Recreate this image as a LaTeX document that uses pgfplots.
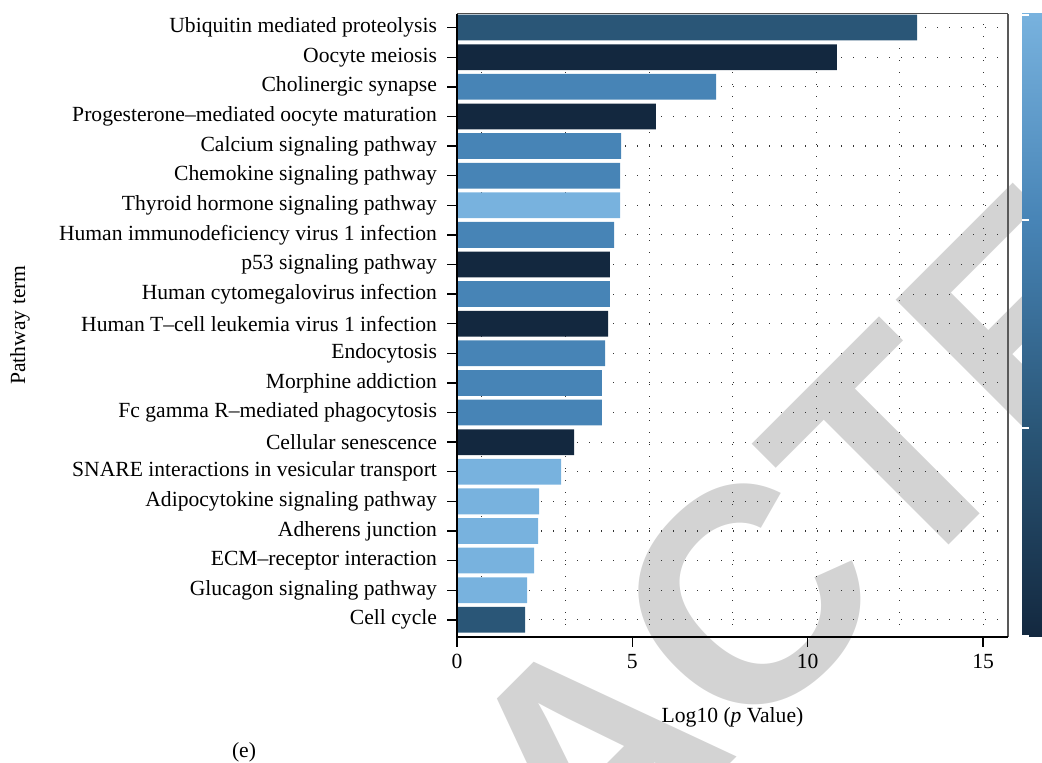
\documentclass[border=0pt]{standalone}
\usepackage{fontspec}
\setmainfont{Liberation Serif}
\newfontfamily\wmfont{Liberation Sans}
\usepackage{pgfplots}
\pgfplotsset{compat=1.18}
\definecolor{cdark}{HTML}{13283F}
\definecolor{cmd}{HTML}{2A5677}
\definecolor{cmed}{HTML}{4784B6}
\definecolor{clight}{HTML}{78B2DE}
\definecolor{wm}{HTML}{D3D3D3}
\pgfdeclareverticalshading{cbar}{100bp}{color(0bp)=(cdark); color(25bp)=(cdark); color(41.667bp)=(cmd); color(58.333bp)=(cmed); color(75bp)=(clight); color(100bp)=(clight)}
\newcommand\lbl{\fontsize{10.8}{13}\selectfont}
\tikzset{gridline/.style={black!80, line width=0.55pt, dash pattern=on 0.55pt off 5.45pt}}
\begin{document}
\begin{tikzpicture}
\useasboundingbox (0,0) rectangle (521pt,381.5pt);
\clip (0,0) rectangle (521pt,381.5pt);
% watermark
\node[rotate=45, text=wm, inner sep=0pt, font=\wmfont\bfseries\fontsize{153}{153}\selectfont] at (295pt,4pt) {RETRACTED};
\begin{axis}[
  at={(228.5pt,63pt)}, anchor=south west, scale only axis,
  width=275.5pt, height=311.5pt,
  xmin=0, xmax=15.71, ymin=-0.58, ymax=20.46,
  xbar, bar width=0.87, bar shift=0pt,
  axis line style={draw=none},
  xtick={0,5,10,15}, ytick={0,1,...,20},
  yticklabels={Cell cycle, Glucagon signaling pathway, ECM--receptor interaction, Adherens junction, Adipocytokine signaling pathway, SNARE interactions in vesicular transport, Cellular senescence, Fc gamma R--mediated phagocytosis, Morphine addiction, Endocytosis, Human T--cell leukemia virus 1 infection, Human cytomegalovirus infection, p53 signaling pathway, Human immunodeficiency virus 1 infection, Thyroid hormone signaling pathway, Chemokine signaling pathway, Calcium signaling pathway, Progesterone--mediated oocyte maturation, Cholinergic synapse, Oocyte meiosis, Ubiquitin mediated proteolysis},
  tick align=outside, major tick length=5pt,
  tick style={black, line width=0.7pt},
  xtick pos=lower, ytick pos=left,
  ymajorgrids,
  major grid style={gridline},
  ticklabel style={font=\lbl},
  yticklabel style={xshift=-1.5pt},
  /pgf/number format/assume math mode=true,
]
\pgfplotsinvokeforeach{0.70,3.09,5.48,7.86,10.24,12.62,15.01}{
  \draw[gridline] (axis cs:#1,-0.58) -- (axis cs:#1,20.46);
}
\addplot[draw=none, fill=cdark] coordinates {(10.83,19) (5.67,17) (4.36,12) (4.31,10) (3.34,6)};
\addplot[draw=none, fill=cmd] coordinates {(13.12,20) (1.94,0)};
\addplot[draw=none, fill=cmed] coordinates {(7.39,18) (4.68,16) (4.65,15) (4.48,13) (4.36,11) (4.22,9) (4.13,8) (4.13,7)};
\addplot[draw=none, fill=clight] coordinates {(4.65,14) (2.97,5) (2.34,4) (2.31,3) (2.20,2) (2.00,1)};
\end{axis}
% axis frame
\draw[black!70, line width=0.5pt] (228.5pt,374.5pt) -- (504pt,374.5pt);
\draw[black!65, line width=1pt] (504pt,63pt) -- (504pt,374.5pt);
\draw[black, line width=0.8pt] (228.5pt,374.5pt) -- (228.5pt,63pt) -- (504pt,63pt);
% colour bar
\shade[shading=cbar] (511pt,63pt) rectangle (535pt,374.5pt);
\foreach \y in {63.6,167.25,271.65,373.9} \draw[white, line width=1pt] (511pt,\y pt) -- (514.5pt,\y pt);
% titles
\node[font=\lbl] at (366.25pt,23pt) {Log10 (\textit{p} Value)};
\node[font=\lbl, rotate=90] at (10pt,219pt) {Pathway term};
\node[font=\lbl] at (122pt,5.5pt) {(e)};
\end{tikzpicture}
\end{document}
